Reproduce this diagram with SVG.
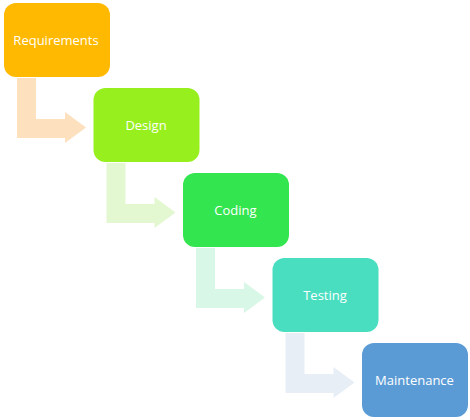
<svg xmlns="http://www.w3.org/2000/svg" width="470" height="420" viewBox="0 0 470 420">
<defs>
<style>
.box{stroke:none}
.lbl{font-family:"Open Sans","Noto Sans",sans-serif;font-size:13px;fill:#ffffff;text-anchor:middle;dominant-baseline:central}
</style>
<path id="bend" d="M0,0 L19,0 L19,41 L48,41 L48,34 L69,49.5 L48,65 L48,60 L0,60 Z"/>
</defs>
<rect width="470" height="420" fill="#ffffff"/>
<g id="connectors">
<use href="#bend" x="17" y="78" fill="#FDE0BE"/>
<use href="#bend" x="106.5" y="163" fill="#E3F8D1"/>
<use href="#bend" x="196" y="248" fill="#D9F7E6"/>
<use href="#bend" x="285.5" y="333" fill="#E8EEF6"/>
</g>
<g id="requirements">
<rect class="box" x="4" y="3" width="106" height="74" rx="12" fill="#FFB900"/>
<text class="lbl" x="56" y="40">Requirements</text>
</g>
<g id="design">
<rect class="box" x="93.5" y="88" width="106" height="74" rx="12" fill="#97F01E"/>
<text class="lbl" x="146" y="125">Design</text>
</g>
<g id="coding">
<rect class="box" x="183" y="173" width="106" height="74" rx="12" fill="#33E54F"/>
<text class="lbl" x="235.5" y="210">Coding</text>
</g>
<g id="testing">
<rect class="box" x="272.5" y="258" width="106" height="74" rx="12" fill="#49DEC0"/>
<text class="lbl" x="325" y="295">Testing</text>
</g>
<g id="maintenance">
<rect class="box" x="362" y="343" width="106" height="74" rx="12" fill="#5B9BD5"/>
<text class="lbl" x="414.5" y="380">Maintenance</text>
</g>
</svg>
